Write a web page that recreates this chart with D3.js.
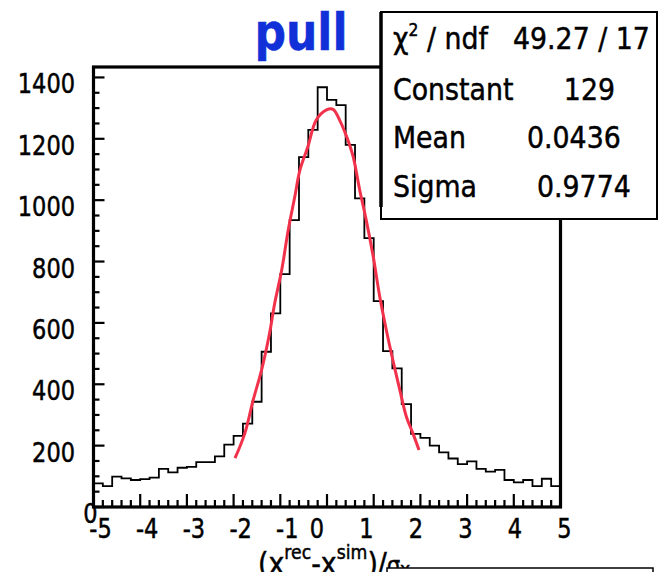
<!DOCTYPE html>
<html>
<head>
<meta charset="utf-8">
<script src="https://cdn.jsdelivr.net/npm/d3@7"></script>
<style>
  body { margin: 0; background: #fff; }
  text { font-family: "DejaVu Sans", sans-serif; fill: #000; stroke: #000; stroke-width: 0.5px; }
</style>
</head>
<body>
<svg id="chart" width="661" height="572"></svg>
<script>
// histogram: 50 bins of width 0.2 between -5 and 5
const binLow = d3.range(50).map(i => -5 + i * 0.2);
const counts = [
  77, 68, 99, 93, 88, 91, 96, 124, 113, 128,
  131, 146, 146, 165, 203, 232, 272, 343, 506, 631,
  759, 935, 1140, 1229, 1368, 1327, 1310, 1180, 1006, 876,
  671, 508, 452, 335, 238, 225, 200, 178, 158, 140,
  149, 124, 115, 121, 88, 80, 88, 68, 92, 68
];

// gaussian fit
const fitX = [-1.97, -1.76, -1.58, -1.40, -1.23, -1.12, -0.97, -0.83, -0.69, -0.58, -0.41, -0.23,
  -0.01, 0.13, 0.27, 0.42, 0.56, 0.70, 0.84, 0.99, 1.13, 1.27, 1.41, 1.56, 1.70, 1.84, 1.97];
const fitY = [159, 240, 349, 447, 566, 664, 772, 903, 1011, 1098, 1174, 1261,
  1294, 1296, 1261, 1207, 1142, 1033, 935, 816, 685, 577, 479, 381, 294, 240, 186];

const yTicks = [0, 200, 400, 600, 800, 1000, 1200, 1400];
const xTicks = [-5, -4, -3, -2, -1, 0, 1, 2, 3, 4, 5];

const statNames = ['Constant', 'Mean', 'Sigma'];
const statValues = ['129', '0.0436', '0.9774'];
const chi2ndf = '49.27 / 17';
const title = 'pull';

const frame = { left: 93.5, right: 560.5, top: 67, bottom: 507 };
const sx = 0.865; // glyphs in the picture are a bit narrow

const svg = d3.select('#chart');

const x = d3.scaleLinear().domain([-5, 5]).range([frame.left, frame.right]);
const y = d3.scaleLinear().domain([0, 1434]).range([frame.bottom, frame.top]);

const label = (g, px, py, s, size, anchor) => g.append('text')
  .attr('transform', `translate(${px},${py}) scale(${sx},1)`)
  .attr('font-size', size)
  .attr('text-anchor', anchor || 'start')
  .text(s);

// histogram outline
const steps = binLow.map((lo, i) => [lo, counts[i]]);
steps.push([5, counts[counts.length - 1]]);
svg.append('path')
  .datum(steps)
  .attr('fill', 'none')
  .attr('stroke', '#000')
  .attr('stroke-width', 1.8)
  .attr('d', d3.line().x(d => x(d[0])).y(d => y(d[1])).curve(d3.curveStepAfter));

// fit curve
svg.append('path')
  .datum(fitX.map((v, i) => [v, fitY[i]]))
  .attr('fill', 'none')
  .attr('stroke', '#f2314b')
  .attr('stroke-width', 3)
  .attr('d', d3.line().x(d => x(d[0])).y(d => y(d[1])).curve(d3.curveCatmullRom));

// frame
svg.append('rect')
  .attr('x', frame.left).attr('y', frame.top)
  .attr('width', frame.right - frame.left).attr('height', frame.bottom - frame.top)
  .attr('fill', 'none').attr('stroke', '#000').attr('stroke-width', 3.2);

// y ticks: major every 200, minor every 50
const yMinor = d3.range(0, 1401, 50);
svg.append('g').selectAll('line').data(yMinor).join('line')
  .attr('x1', frame.left).attr('x2', d => frame.left + (d % 200 === 0 ? 11 : 6))
  .attr('y1', d => y(d)).attr('y2', d => y(d))
  .attr('stroke', '#000').attr('stroke-width', 2.2);

// x ticks: major every 1, minor every 0.2
const xMinor = d3.range(0, 51).map(i => -5 + i * 0.2);
svg.append('g').selectAll('line').data(xMinor).join('line')
  .attr('x1', d => x(d)).attr('x2', d => x(d))
  .attr('y1', frame.bottom)
  .attr('y2', (d, i) => frame.bottom - (i % 5 === 0 ? 13 : 7))
  .attr('stroke', '#000').attr('stroke-width', 2.2);

// tick labels
const axisLabels = svg.append('g');
yTicks.forEach(v => {
  if (v === 0) {
    label(axisLabels, frame.left - 3, y(v) + 16, '0', 26, 'middle');
  } else {
    label(axisLabels, 75, y(v) + 16, String(v), 26, 'end');
  }
});
xTicks.forEach(v => {
  const dx = v < 0 ? 7 : -10 + 2.8 * v;
  label(axisLabels, x(v) + dx, 538, v < 0 ? '-' + Math.abs(v) : String(v), 26, 'middle');
});

// axis title (cut by the bottom edge)
const xt = svg.append('text')
  .attr('transform', `translate(258,574) scale(${sx},1)`)
  .attr('font-size', 31);
xt.append('tspan').text('(x');
xt.append('tspan').attr('font-size', 20).attr('dy', -15).text('rec');
xt.append('tspan').attr('dy', 15).text('-x');
xt.append('tspan').attr('font-size', 20).attr('dy', -15).text('sim');
xt.append('tspan').attr('dy', 15).text(')/');
xt.append('tspan').attr('font-size', 24).text('σ');
xt.append('tspan').attr('font-size', 20).attr('dy', 2).text('x');

// title
svg.append('text')
  .attr('transform', `translate(301,50) scale(${sx},1)`)
  .attr('font-size', 51)
  .attr('font-weight', 'bold')
  .attr('text-anchor', 'middle')
  .style('fill', '#1230d8')
  .style('stroke', '#1230d8')
  .text(title);

// stats box
const box = svg.append('g');
box.append('rect')
  .attr('x', 381).attr('y', 12).attr('width', 276).attr('height', 207)
  .attr('fill', '#fff').attr('stroke', '#000').attr('stroke-width', 2);
box.append('line')
  .attr('x1', 381).attr('x2', 381).attr('y1', 12).attr('y2', 207)
  .attr('stroke', '#000').attr('stroke-width', 3.5);

const chi = box.append('text')
  .attr('transform', `translate(393,49) scale(${sx},1)`)
  .attr('font-size', 31);
chi.append('tspan').text('χ');
chi.append('tspan').attr('font-size', 18).attr('dy', -13).text('2');
chi.append('tspan').attr('dy', 13).text(' / ndf');
label(box, 513, 49, chi2ndf, 31);

const rowY = [100, 148, 197];
const valueX = [{ x: 615, a: 'end' }, { x: 527, a: 'start' }, { x: 537, a: 'start' }];
statNames.forEach((n, i) => {
  label(box, 393, rowY[i], n, 31);
  label(box, valueX[i].x, rowY[i], statValues[i], 31, valueX[i].a);
});

// second stats box peeking in at the bottom
svg.append('rect')
  .attr('x', 387).attr('y', 568).attr('width', 266).attr('height', 20)
  .attr('fill', '#fff').attr('stroke', '#000').attr('stroke-width', 1.5);
</script>
</body>
</html>
